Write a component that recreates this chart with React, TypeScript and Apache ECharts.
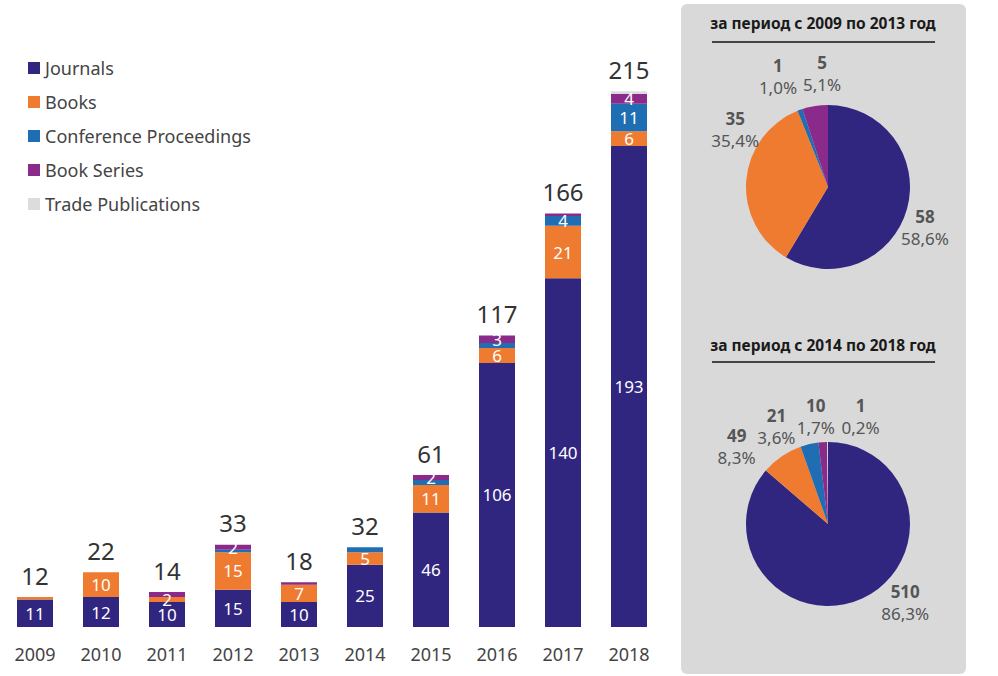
import React, { useEffect, useRef } from "react";
import * as echarts from "echarts";

const years = ["2009", "2010", "2011", "2012", "2013", "2014", "2015", "2016", "2017", "2018"];
const seriesNames = ["Journals", "Books", "Conference Proceedings", "Book Series", "Trade Publications"];
const journals = [11, 12, 10, 15, 10, 25, 46, 106, 140, 193];
const books = [1, 10, 2, 15, 7, 5, 11, 6, 21, 6];
const conference = [0, 0, 0, 1, 0, 2, 2, 2, 4, 11];
const bookSeries = [0, 0, 2, 2, 1, 0, 2, 3, 1, 4];
const trade = [0, 0, 0, 0, 0, 0, 0, 0, 0, 1];
const totals = [12, 22, 14, 33, 18, 32, 61, 117, 166, 215];
const hiddenLabels = [
  "Books|2009",
  "Conference Proceedings|2012",
  "Conference Proceedings|2014",
  "Conference Proceedings|2015",
  "Conference Proceedings|2016",
  "Book Series|2011",
  "Book Series|2013",
  "Book Series|2017",
  "Trade Publications|2018",
];
const periods = [
  { title: "за период с 2009 по 2013 год", from: 0, to: 4 },
  { title: "за период с 2014 по 2018 год", from: 5, to: 9 },
];

const colors = ["#30257f", "#ee7b30", "#1f6db3", "#8a2a8a", "#dcdcdc"];
const FONT = "'Noto Sans', 'Open Sans', sans-serif";

export default function App() {
  const ref = useRef<HTMLDivElement>(null);
  useEffect(() => {
    document.body.style.margin = "0";
    const chart = echarts.init(ref.current!, undefined, { renderer: "svg" });
    const stacks = [journals, books, conference, bookSeries, trade];

    const barSeries: any[] = stacks.map((vals, si) => ({
      name: seriesNames[si],
      type: "bar",
      stack: "all",
      barWidth: 36,
      barGap: "-100%",
      itemStyle: { color: colors[si] },
      label: {
        show: true,
        position: "inside",
        color: "#ffffff",
        fontSize: 17,
        fontFamily: FONT,
      },
      data: vals.map((v, i) => {
        const hide = v === 0 || hiddenLabels.includes(seriesNames[si] + "|" + years[i]);
        return hide ? { value: v, label: { show: false } } : v;
      }),
    }));

    barSeries.push({
      name: "total",
      type: "bar",
      barWidth: 36,
      barGap: "-100%",
      itemStyle: { color: "rgba(0,0,0,0)" },
      z: 1,
      label: {
        show: true,
        position: "top",
        distance: 10,
        color: "#333333",
        fontSize: 24,
        fontFamily: FONT,
      },
      data: totals,
    });

    const pieCenters = [
      [828, 187],
      [828, 524],
    ];
    const pieOffsets = [
      [[13, 19], [-6, -51], [-17, -33], [12, -33]],
      [[38, 4], [-40, -10], [-28, -18], [-2, -26], [38, -26]],
    ];

    const pieSeries: any[] = periods.map((p, pi) => {
      const items = stacks
        .map((vals, si) => ({
          name: seriesNames[si],
          value: vals.slice(p.from, p.to + 1).reduce((a, b) => a + b, 0),
          itemStyle: { color: colors[si] },
        }))
        .filter((d) => d.value > 0);
      const sum = items.reduce((a, d) => a + d.value, 0);
      return {
        type: "pie",
        center: pieCenters[pi],
        radius: 82,
        startAngle: 90,
        clockwise: true,
        avoidLabelOverlap: false,
        itemStyle: { borderWidth: 0 },
        label: {
          show: true,
          position: "outside",
          formatter: (prm: any) =>
            "{v|" + prm.value + "}\n{p|" + ((prm.value / sum) * 100).toFixed(1).replace(".", ",") + "%}",
          rich: {
            v: { fontSize: 17, fontWeight: "bold", color: "#555555", fontFamily: FONT, lineHeight: 22, align: "center" },
            p: { fontSize: 17, color: "#555555", fontFamily: FONT, lineHeight: 22, align: "center" },
          },
        },
        labelLine: { show: false, length: 0, length2: 0 },
        labelLayout: (prm: any) => {
          const o = pieOffsets[pi][prm.dataIndex] || [0, 0];
          return { align: "center", verticalAlign: "middle", dx: o[0], dy: o[1] };
        },
        emphasis: { disabled: true },
        data: items,
      };
    });

    const option: any = {
      animation: false,
      textStyle: { fontFamily: FONT },
      title: periods.map((p, pi) => ({
        text: p.title,
        left: 823,
        top: pi === 0 ? 15 : 337,
        textAlign: "center",
        padding: 0,
        textStyle: { fontSize: 15.5, fontWeight: "bold", color: "#1a1a1a", fontFamily: FONT },
      })),
      graphic: [
        {
          type: "rect",
          z: -10,
          shape: { x: 681, y: 4, width: 285, height: 670, r: 6 },
          style: { fill: "#d9d9d9" },
        },
        {
          type: "line",
          shape: { x1: 712, y1: 42, x2: 935, y2: 42 },
          style: { stroke: "#444444", lineWidth: 2 },
        },
        {
          type: "line",
          shape: { x1: 712, y1: 362, x2: 935, y2: 362 },
          style: { stroke: "#444444", lineWidth: 2 },
        },
      ],
      legend: {
        data: seriesNames,
        orient: "vertical",
        left: 28,
        top: 58,
        padding: 0,
        itemWidth: 12,
        itemHeight: 12,
        itemGap: 14,
        icon: "rect",
        selectedMode: false,
        textStyle: { fontSize: 18, color: "#444444", fontFamily: FONT, lineHeight: 20 },
      },
      grid: { left: 2, width: 660, top: 29, bottom: 49, containLabel: false },
      xAxis: {
        type: "category",
        data: years,
        axisLine: { show: false },
        axisTick: { show: false },
        axisLabel: { fontSize: 18, color: "#444444", margin: 18, fontFamily: FONT },
      },
      yAxis: {
        type: "value",
        min: 0,
        max: 240,
        show: false,
        splitLine: { show: false },
      },
      series: [...barSeries, ...pieSeries],
    };
    chart.setOption(option);
    return () => chart.dispose();
  }, []);
  return <div ref={ref} style={{ width: 998, height: 676 }} />;
}
